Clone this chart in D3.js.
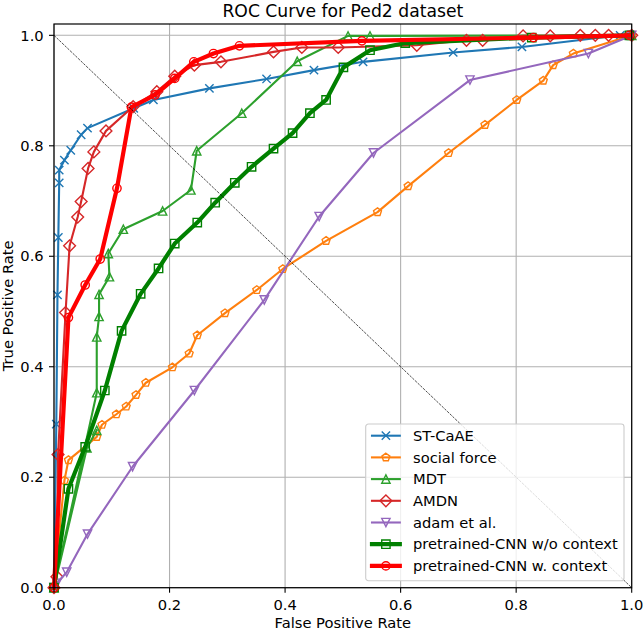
<!DOCTYPE html>
<html>
<head>
<meta charset="utf-8">
<script src="https://cdn.jsdelivr.net/npm/d3@7/dist/d3.min.js"></script>
<style>
    body { margin: 0; background: #fff; }
    svg text { font-family: "DejaVu Sans", sans-serif; fill: #000; }
</style>
</head>
<body>
<div id="chart"></div>
<script>
'use strict';

// values
var stcaaeFpr = [0, 0.004, 0.006, 0.0075, 0.009, 0.009, 0.018, 0.029, 0.047, 0.058, 0.138, 0.172, 0.269, 0.368, 0.45, 0.535, 0.691, 0.81, 0.98, 1.0];
var stcaaeTpr = [0, 0.296, 0.53, 0.634, 0.733, 0.756, 0.774, 0.792, 0.82, 0.832, 0.868, 0.883, 0.904, 0.921, 0.937, 0.952, 0.969, 0.979, 1.0, 1.0];

var socialFpr = [0, 0.018, 0.025, 0.074, 0.083, 0.108, 0.125, 0.142, 0.159, 0.205, 0.234, 0.248, 0.296, 0.351, 0.396, 0.471, 0.56, 0.613, 0.683, 0.746, 0.801, 0.847, 0.864, 0.899, 1.0];
var socialTpr = [0, 0.194, 0.231, 0.273, 0.295, 0.314, 0.328, 0.349, 0.371, 0.399, 0.424, 0.457, 0.497, 0.539, 0.577, 0.628, 0.68, 0.727, 0.787, 0.838, 0.883, 0.918, 0.946, 0.967, 1.0];

// MDT list starts off the main curve: two thin strokes leave the origin
var mdtFpr = [0.074, 0.057, 0, 0.074, 0.074, 0.078, 0.078, 0.096, 0.094, 0.12, 0.188, 0.237, 0.247, 0.325, 0.421, 0.509, 0.547, 1.0];
var mdtTpr = [0.285, 0.253, 0, 0.353, 0.454, 0.491, 0.531, 0.563, 0.605, 0.649, 0.682, 0.72, 0.791, 0.859, 0.953, 0.999, 0.999, 1.0];

var amdnFpr = [0, 0.005, 0.007, 0.02, 0.027, 0.041, 0.047, 0.059, 0.069, 0.09, 0.137, 0.178, 0.209, 0.243, 0.289, 0.38, 0.429, 0.492, 0.628, 0.714, 0.742, 0.812, 0.859, 0.911, 0.937, 0.96, 1.0];
var amdnTpr = [0, 0.02, 0.241, 0.498, 0.619, 0.671, 0.699, 0.759, 0.789, 0.827, 0.871, 0.898, 0.926, 0.946, 0.952, 0.97, 0.978, 0.978, 0.982, 0.991, 0.991, 0.999, 0.999, 1.0, 1.0, 1.0, 1.0];

var adamFpr = [0, 0.005, 0.022, 0.058, 0.136, 0.243, 0.364, 0.459, 0.553, 0.72, 0.925, 1.0];
var adamTpr = [0, 0.008, 0.028, 0.097, 0.219, 0.357, 0.521, 0.672, 0.787, 0.919, 0.967, 1.0];

var noCtxFpr = [0, 0.025, 0.054, 0.088, 0.117, 0.15, 0.181, 0.209, 0.248, 0.279, 0.313, 0.342, 0.38, 0.413, 0.443, 0.471, 0.501, 0.547, 0.608, 0.827, 0.996];
var noCtxTpr = [0, 0.179, 0.255, 0.357, 0.465, 0.532, 0.578, 0.623, 0.661, 0.697, 0.733, 0.762, 0.795, 0.823, 0.859, 0.883, 0.942, 0.973, 0.986, 0.996, 1.0];

var ctxFpr = [0, 0.025, 0.054, 0.08, 0.109, 0.134, 0.175, 0.209, 0.242, 0.276, 0.321, 0.533, 0.83, 0.996];
var ctxTpr = [0, 0.489, 0.548, 0.595, 0.723, 0.87, 0.892, 0.922, 0.952, 0.967, 0.981, 0.99, 0.996, 1.0];

var tickValues = [0, 0.2, 0.4, 0.6, 0.8, 1.0];

var seriesNames = ['ST-CaAE', 'social force', 'MDT', 'AMDN', 'adam et al.', 'pretrained-CNN w/o context', 'pretrained-CNN w. context'];

var series = [
    { name: seriesNames[0], fpr: stcaaeFpr, tpr: stcaaeTpr, color: '#1f77b4', marker: 'x', lw: 2.1 },
    { name: seriesNames[1], fpr: socialFpr, tpr: socialTpr, color: '#ff7f0e', marker: 'p', lw: 2.1 },
    { name: seriesNames[2], fpr: mdtFpr, tpr: mdtTpr, color: '#2ca02c', marker: '^', lw: 2.1 },
    { name: seriesNames[3], fpr: amdnFpr, tpr: amdnTpr, color: '#d62728', marker: 'D', lw: 2.1 },
    { name: seriesNames[4], fpr: adamFpr, tpr: adamTpr, color: '#9467bd', marker: 'v', lw: 2.1 },
    { name: seriesNames[5], fpr: noCtxFpr, tpr: noCtxTpr, color: '#008000', marker: 's', lw: 4.2 },
    { name: seriesNames[6], fpr: ctxFpr, tpr: ctxTpr, color: '#ff0000', marker: 'o', lw: 4.2 }
];

var width = 643, height = 630;
var plotLeft = 54, plotRight = 631.7, plotTop = 24, plotBottom = 587.7;
var ms = 8.33; // marker size in px (6pt)
var fontSize = '14.7px';

var svg = d3.select('#chart').append('svg')
    .attr('width', width)
    .attr('height', height);

var x = d3.scaleLinear().domain([0, 1]).range([plotLeft, plotRight]);
var y = d3.scaleLinear().domain([0, 1.0205]).range([plotBottom, plotTop]);

// matplotlib-like marker shapes, centred on 0,0
var markerPath = function (type) {
    var h = ms / 2;
    var d = ms * Math.SQRT1_2;
    if (type === 'x')
        return 'M' + (-h) + ',' + (-h) + 'L' + h + ',' + h + 'M' + (-h) + ',' + h + 'L' + h + ',' + (-h);
    if (type === '^')
        return 'M0,' + (-h) + 'L' + h + ',' + h + 'L' + (-h) + ',' + h + 'Z';
    if (type === 'v')
        return 'M0,' + h + 'L' + h + ',' + (-h) + 'L' + (-h) + ',' + (-h) + 'Z';
    if (type === 'D')
        return 'M0,' + (-d) + 'L' + d + ',0L0,' + d + 'L' + (-d) + ',0Z';
    if (type === 's')
        return 'M' + (-h) + ',' + (-h) + 'H' + h + 'V' + h + 'H' + (-h) + 'Z';
    if (type === 'o')
        return 'M' + h + ',0A' + h + ',' + h + ' 0 1,1 ' + (-h) + ',0A' + h + ',' + h + ' 0 1,1 ' + h + ',0Z';
    if (type === 'p') {
        var pts = d3.range(5).map(function (k) {
            var a = -Math.PI / 2 + k * 2 * Math.PI / 5;
            return [h * Math.cos(a), h * Math.sin(a)];
        });
        return 'M' + pts.join('L') + 'Z';
    }
    return '';
};

// grid
var grid = svg.append('g').attr('class', 'grid');
grid.selectAll('line.gx').data(tickValues).enter().append('line')
    .attr('x1', function (d) { return x(d); })
    .attr('x2', function (d) { return x(d); })
    .attr('y1', plotTop).attr('y2', plotBottom)
    .attr('stroke', '#b0b0b0').attr('stroke-width', 1.1);
grid.selectAll('line.gy').data(tickValues).enter().append('line')
    .attr('y1', function (d) { return y(d); })
    .attr('y2', function (d) { return y(d); })
    .attr('x1', plotLeft).attr('x2', plotRight)
    .attr('stroke', '#b0b0b0').attr('stroke-width', 1.1);

var plot = svg.append('g').attr('class', 'plot');

var line = d3.line()
    .x(function (d) { return x(d[0]); })
    .y(function (d) { return y(d[1]); });

series.forEach(function (s) {
    var pts = s.fpr.map(function (f, i) { return [f, s.tpr[i]]; });
    var g = plot.append('g');

    g.append('path')
        .datum(pts)
        .attr('d', line)
        .attr('fill', 'none')
        .attr('stroke', s.color)
        .attr('stroke-width', s.lw)
        .attr('stroke-linejoin', 'round')
        .attr('stroke-linecap', 'square');

    g.selectAll('path.mk').data(pts).enter().append('path')
        .attr('class', 'mk')
        .attr('transform', function (d) { return 'translate(' + x(d[0]) + ',' + y(d[1]) + ')'; })
        .attr('d', markerPath(s.marker))
        .attr('fill', 'none')
        .attr('stroke', s.color)
        .attr('stroke-width', 1.4);
});

// chance line
plot.append('line')
    .attr('x1', x(0)).attr('y1', y(1))
    .attr('x2', x(1)).attr('y2', y(0))
    .attr('stroke', '#000')
    .attr('stroke-width', 0.7)
    .attr('stroke-dasharray', '2.6,1.1');

// axes frame
svg.append('rect')
    .attr('x', plotLeft).attr('y', plotTop)
    .attr('width', plotRight - plotLeft).attr('height', plotBottom - plotTop)
    .attr('fill', 'none')
    .attr('stroke', '#000')
    .attr('stroke-width', 1.2);

// ticks
var fmt = d3.format('.1f');
var xAxis = svg.append('g');
xAxis.selectAll('line').data(tickValues).enter().append('line')
    .attr('x1', function (d) { return x(d); })
    .attr('x2', function (d) { return x(d); })
    .attr('y1', plotBottom).attr('y2', plotBottom + 5)
    .attr('stroke', '#000').attr('stroke-width', 1.1);
xAxis.selectAll('text').data(tickValues).enter().append('text')
    .attr('x', function (d) { return x(d); })
    .attr('y', plotBottom + 22.5)
    .attr('text-anchor', 'middle')
    .style('font-size', fontSize)
    .text(fmt);

var yAxis = svg.append('g');
yAxis.selectAll('line').data(tickValues).enter().append('line')
    .attr('y1', function (d) { return y(d); })
    .attr('y2', function (d) { return y(d); })
    .attr('x1', plotLeft).attr('x2', plotLeft - 5)
    .attr('stroke', '#000').attr('stroke-width', 1.1);
yAxis.selectAll('text').data(tickValues).enter().append('text')
    .attr('x', plotLeft - 10.3)
    .attr('y', function (d) { return y(d) + 5.2; })
    .attr('text-anchor', 'end')
    .style('font-size', fontSize)
    .text(fmt);

// labels
svg.append('text')
    .attr('x', (plotLeft + plotRight) / 2)
    .attr('y', 16.5)
    .attr('text-anchor', 'middle')
    .style('font-size', '17.2px')
    .text('ROC Curve for Ped2 dataset');

svg.append('text')
    .attr('x', (plotLeft + plotRight) / 2)
    .attr('y', 627.5)
    .attr('text-anchor', 'middle')
    .style('font-size', fontSize)
    .text('False Positive Rate');

svg.append('text')
    .attr('transform', 'translate(12.5,' + ((plotTop + plotBottom) / 2) + ') rotate(-90)')
    .attr('text-anchor', 'middle')
    .style('font-size', fontSize)
    .text('True Positive Rate');

// legend, lower right
var legX = 365.7, legY = 424, legW = 258.3, legH = 156.7, rowH = 21.7;
var legend = svg.append('g').attr('transform', 'translate(' + legX + ',' + legY + ')');

legend.append('rect')
    .attr('width', legW).attr('height', legH)
    .attr('rx', 2.8).attr('ry', 2.8)
    .attr('fill', '#fff').attr('fill-opacity', 0.8)
    .attr('stroke', '#cccccc').attr('stroke-width', 1.1);

var rows = legend.selectAll('g.row').data(series).enter().append('g')
    .attr('class', 'row')
    .attr('transform', function (d, i) { return 'translate(0,' + (11.7 + i * rowH) + ')'; });

rows.append('line')
    .attr('x1', 6.3).attr('x2', 34.1)
    .attr('stroke', function (d) { return d.color; })
    .attr('stroke-width', function (d) { return d.lw; })
    .attr('stroke-linecap', 'square');

rows.append('path')
    .attr('transform', 'translate(20.2,0)')
    .attr('d', function (d) { return markerPath(d.marker); })
    .attr('fill', 'none')
    .attr('stroke', function (d) { return d.color; })
    .attr('stroke-width', 1.4);

rows.append('text')
    .attr('x', 47.3)
    .attr('y', 5.2)
    .style('font-size', fontSize)
    .text(function (d) { return d.name; });
</script>
</body>
</html>
